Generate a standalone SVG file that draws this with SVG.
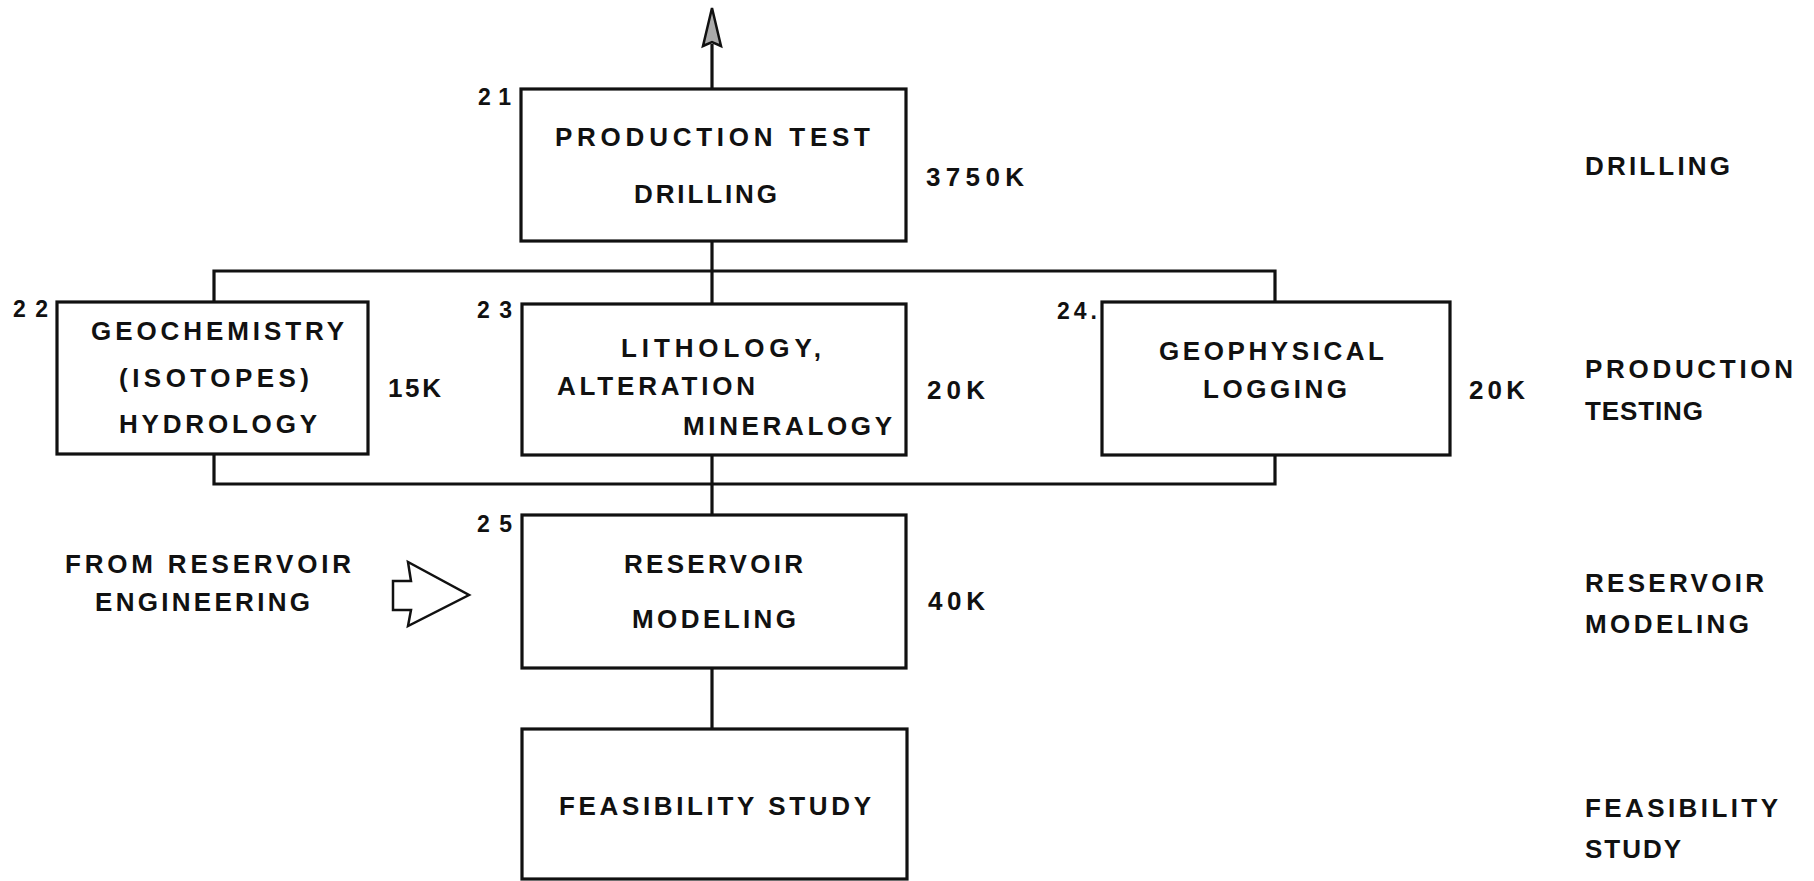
<svg xmlns="http://www.w3.org/2000/svg" width="1814" height="881" viewBox="0 0 1814 881">
<style>
.box{fill:#fff;stroke:#111;stroke-width:3.2}
.ln{fill:none;stroke:#111;stroke-width:3.2}
.t{font-family:"Liberation Sans",Arial,sans-serif;font-weight:bold;font-size:26px;fill:#111}
.n{font-family:"Liberation Sans",Arial,sans-serif;font-weight:bold;font-size:23px;fill:#111}
</style>
<rect width="1814" height="881" fill="#fff"/>
<g id="connectors">
<line class="ln" x1="712" y1="89" x2="712" y2="44"/>
<polygon points="712,8 721,46 712,42 703,46" fill="#aaa" stroke="#111" stroke-width="2.5" stroke-linejoin="miter"/>
<line class="ln" x1="712" y1="241" x2="712" y2="304"/>
<path class="ln" d="M214,302 V271 H1275 V302"/>
<path class="ln" d="M214,454 V484 H1275 V455"/>
<line class="ln" x1="712" y1="455" x2="712" y2="515"/>
<line class="ln" x1="712" y1="668" x2="712" y2="729"/>
<polygon points="393,581 411,581 408,562 469,595 408,626 411,610 393,610" fill="#fff" stroke="#111" stroke-width="2.5" stroke-linejoin="miter"/>
</g>
<g id="n21">
<rect class="box" x="521" y="89" width="385" height="152"/>
<text class="n" x="478" y="105" textLength="33" lengthAdjust="spacing">21</text>
<text class="t" x="555" y="146" textLength="315" lengthAdjust="spacing">PRODUCTION  TEST</text>
<text class="t" x="634" y="203" textLength="143" lengthAdjust="spacing">DRILLING</text>
<text class="t" x="926" y="186" textLength="98" lengthAdjust="spacing">3750K</text>
</g>
<g id="n22">
<rect class="box" x="57" y="302" width="311" height="152"/>
<text class="n" x="13" y="317" textLength="35" lengthAdjust="spacing">22</text>
<text class="t" x="91" y="340" textLength="253" lengthAdjust="spacing">GEOCHEMISTRY</text>
<text class="t" x="119" y="387" textLength="190" lengthAdjust="spacing">(ISOTOPES)</text>
<text class="t" x="119" y="433" textLength="198" lengthAdjust="spacing">HYDROLOGY</text>
<text class="t" x="388" y="397" textLength="53" lengthAdjust="spacing">15K</text>
</g>
<g id="n23">
<rect class="box" x="522" y="304" width="384" height="151"/>
<text class="n" x="477" y="318" textLength="35" lengthAdjust="spacing">23</text>
<text class="t" x="621" y="357" textLength="200" lengthAdjust="spacing">LITHOLOGY,</text>
<text class="t" x="557" y="395" textLength="198" lengthAdjust="spacing">ALTERATION</text>
<text class="t" x="683" y="435" textLength="209" lengthAdjust="spacing">MINERALOGY</text>
<text class="t" x="927" y="399" textLength="58" lengthAdjust="spacing">20K</text>
</g>
<g id="n24">
<rect class="box" x="1102" y="302" width="348" height="153"/>
<text class="n" x="1057" y="319" textLength="40" lengthAdjust="spacing">24.</text>
<text class="t" x="1159" y="360" textLength="225" lengthAdjust="spacing">GEOPHYSICAL</text>
<text class="t" x="1203" y="398" textLength="144" lengthAdjust="spacing">LOGGING</text>
<text class="t" x="1469" y="399" textLength="56" lengthAdjust="spacing">20K</text>
</g>
<g id="n25">
<rect class="box" x="522" y="515" width="384" height="153"/>
<text class="n" x="477" y="532" textLength="35" lengthAdjust="spacing">25</text>
<text class="t" x="624" y="573" textLength="179" lengthAdjust="spacing">RESERVOIR</text>
<text class="t" x="632" y="628" textLength="164" lengthAdjust="spacing">MODELING</text>
<text class="t" x="928" y="610" textLength="57" lengthAdjust="spacing">40K</text>
</g>
<g id="n26">
<rect class="box" x="522" y="729" width="385" height="150"/>
<text class="t" x="559" y="815" textLength="312" lengthAdjust="spacing">FEASIBILITY  STUDY</text>
</g>
<g id="source">
<text class="t" x="65" y="573" textLength="286" lengthAdjust="spacing">FROM RESERVOIR</text>
<text class="t" x="95" y="611" textLength="215" lengthAdjust="spacing">ENGINEERING</text>
</g>
<g id="phases">
<text class="t" x="1585" y="175" textLength="145" lengthAdjust="spacing">DRILLING</text>
<text class="t" x="1585" y="378" textLength="208" lengthAdjust="spacing">PRODUCTION</text>
<text class="t" x="1585" y="420" textLength="118" lengthAdjust="spacing">TESTING</text>
<text class="t" x="1585" y="592" textLength="179" lengthAdjust="spacing">RESERVOIR</text>
<text class="t" x="1585" y="633" textLength="164" lengthAdjust="spacing">MODELING</text>
<text class="t" x="1585" y="817" textLength="193" lengthAdjust="spacing">FEASIBILITY</text>
<text class="t" x="1585" y="858" textLength="96" lengthAdjust="spacing">STUDY</text>
</g>
</svg>
